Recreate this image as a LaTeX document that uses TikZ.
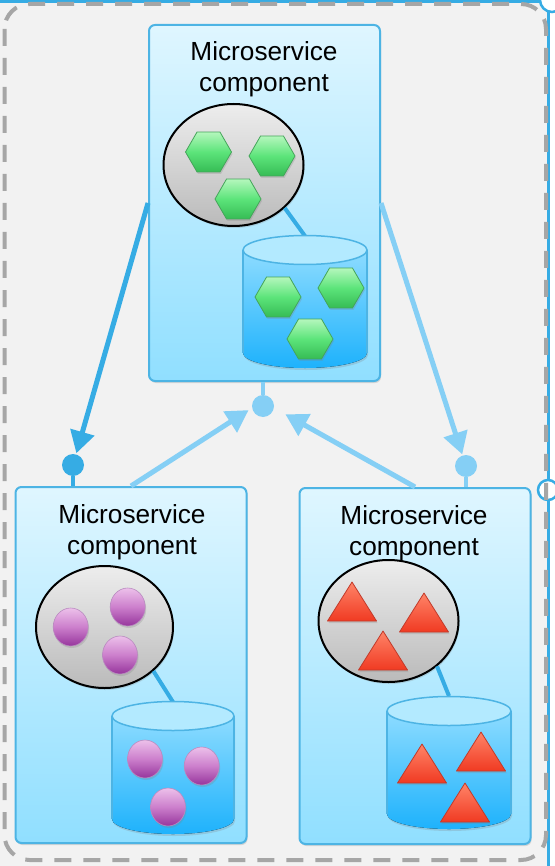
\documentclass[tikz,border=0pt]{standalone}
\usepackage{fontspec}
\setmainfont{Liberation Sans}
\usetikzlibrary{arrows.meta,shapes.geometric,shadows}
\definecolor{boxline}{HTML}{4DB4E4}
\definecolor{darklink}{HTML}{36ACE4}
\definecolor{palelink}{HTML}{85CFF5}
\definecolor{boxtop}{HTML}{DFF6FF}
\definecolor{boxbottom}{HTML}{90DFFF}
\definecolor{dbtop}{HTML}{8EDCFF}
\definecolor{dbbottom}{HTML}{1EB2FC}
\definecolor{dblid}{HTML}{B3EAFF}
\definecolor{hexline}{HTML}{45A55A}
\definecolor{hextop}{HTML}{B4F7BC}
\definecolor{hexmid}{HTML}{5CE47A}
\definecolor{hexbottom}{HTML}{36BC55}
\definecolor{ballline}{HTML}{B98BC0}
\definecolor{balltop}{HTML}{ECC0EA}
\definecolor{ballmid}{HTML}{CC7FCC}
\definecolor{ballbottom}{HTML}{96359C}
\definecolor{triline}{HTML}{C23A2A}
\definecolor{tritop}{HTML}{FF8468}
\definecolor{tribottom}{HTML}{F03A22}
\tikzset{
  softshadow/.style={drop shadow={opacity=.25,shadow xshift=1pt,shadow yshift=-2pt}},
  compbox/.style={draw=boxline,line width=2pt,rounded corners=6pt,minimum width=231pt,minimum height=356pt,
    top color=boxtop,bottom color=boxbottom,softshadow},
  caption/.style={align=center,font=\fontsize{26.2}{31}\selectfont,text=black},
  logic/.style={ellipse,draw=black,line width=2pt,minimum width=140pt,minimum height=122pt,inner sep=0pt,
    top color=black!7,bottom color=black!27,softshadow},
  port/.style={circle,fill=#1,minimum size=22pt,inner sep=0pt},
  stem/.style={#1,line width=4pt},
  link/.style={#1,line width=5pt,-{Triangle[length=22pt,width=24pt]}},
  dblink/.style={darklink,line width=4pt},
  dbbody/.style={top color=dbtop,bottom color=dbbottom,softshadow},
  dbcap/.style={draw=boxline,line width=1.5pt,fill=dblid},
  dbside/.style={boxline,line width=1.5pt},
  hexa/.style={regular polygon,regular polygon sides=6,minimum size=46pt,inner sep=0pt,draw=hexline,
    line width=.8pt,top color=hextop,bottom color=hexbottom,middle color=hexmid,softshadow},
  ball/.style={ellipse,minimum width=35pt,minimum height=38pt,inner sep=0pt,draw=ballline,line width=.6pt,
    top color=balltop,bottom color=ballbottom,middle color=ballmid,softshadow},
  tria/.style={draw=triline,line width=.8pt,line join=round,top color=tritop,bottom color=tribottom,softshadow},
}
\begin{document}
\begin{tikzpicture}[x=1pt,y=-1pt]
  \useasboundingbox (0,0) rectangle (554,866);
  \fill[white] (0,0) rectangle (554,866);

  % selection frame of the page
  \fill[black!5] (0,0) rectangle (548.7,866);
  \draw[darklink,line width=3.5pt] (0,1) -- (540,1);
  \draw[darklink,line width=2.5pt] (548.7,0) -- (548.7,866);
  \node[circle,draw=darklink,line width=2.5pt,fill=white,minimum size=24pt,inner sep=0pt] (cornerhandle) at (552,0) {};
  \node[circle,draw=darklink,line width=2.5pt,fill=white,minimum size=20pt,inner sep=0pt] (sidehandle) at (548,490) {};

  % outer boundary
  \draw[black!35,line width=4pt,dash pattern=on 17pt off 12pt,rounded corners=25pt] (4.5,4) rectangle (546,860);

  % boxes
  \node[compbox] (topbox) at (264.5,203) {};
  \node[compbox] (leftbox) at (131,665) {};
  \node[compbox] (rightbox) at (415,666) {};
  \node[caption] (toptext) at (264,69) {Microservice\\component};
  \node[caption] (lefttext) at (132,532) {Microservice\\component};
  \node[caption] (righttext) at (414,533) {Microservice\\component};

  % ports
  \node[port=palelink] (topport) at (263,406) {};
  \node[port=darklink] (leftport) at (73,465) {};
  \node[port=palelink] (rightport) at (466,466) {};
  \draw[stem=palelink] (topport) -- (topport |- topbox.south);
  \draw[stem=darklink] (leftport) -- (leftport |- leftbox.north);
  \draw[stem=palelink] (rightport) -- (rightport |- rightbox.north);

  % calls
  \draw[link=darklink,shorten >=1pt] (topbox.west) -- (leftport);
  \draw[link=palelink,shorten >=1pt] (topbox.east) -- (rightport);
  \draw[link=palelink,shorten >=4pt] (leftbox.north) -- (topport.190);
  \draw[link=palelink,shorten >=13pt] (rightbox.north) -- (topport.-10);

  % top component
  \coordinate (topdb) at (305,236);
  \node[logic] (toplogic) at (233.5,165) {};
  \draw[dblink] (toplogic.-40) -- (topdb);
  \fill[dbbody] (243,250) -- (243,353) arc[start angle=180,end angle=0,x radius=62,y radius=15] -- (367,250) -- cycle;
  \draw[dbside] (243,250) -- (243,353) (367,250) -- (367,353);
  \filldraw[dbcap] (305,250) ellipse (62 and 14.5);
  \foreach \hx/\hy in {208.5/152,272/156,238/199,278/297,341/288,310/339}
    \node[hexa] (hex-\hx) at (\hx,\hy) {};

  % left component
  \coordinate (leftdb) at (173,702);
  \node[logic,minimum width=137pt] (leftlogic) at (104.5,627) {};
  \draw[dblink] (leftlogic.-42) -- (leftdb);
  \fill[dbbody] (112,716) -- (112,819) arc[start angle=180,end angle=0,x radius=61,y radius=15] -- (234,716) -- cycle;
  \draw[dbside] (112,716) -- (112,819) (234,716) -- (234,819);
  \filldraw[dbcap] (173,716) ellipse (61 and 14.5);
  \foreach \bx/\by in {70.7/627,127.7/607,120/655,145/759,201.7/766,168/807}
    \node[ball] (ball-\bx) at (\bx,\by) {};

  % right component
  \coordinate (rightdb) at (449,696);
  \node[logic] (rightlogic) at (388.5,621) {};
  \draw[dblink] (rightlogic.-43) -- (rightdb);
  \fill[dbbody] (387,711) -- (387,814) arc[start angle=180,end angle=0,x radius=62,y radius=15] -- (511,711) -- cycle;
  \draw[dbside] (387,711) -- (387,814) (511,711) -- (511,814);
  \filldraw[dbcap] (449,711) ellipse (62 and 14.5);
  \foreach \tx/\ty in {352/582,424/593,383/631,422/744,481/732,465/783}
    \draw[tria] (\tx,\ty) -- ++(24.5,39) -- ++(-49,0) -- cycle;
\end{tikzpicture}
\end{document}
